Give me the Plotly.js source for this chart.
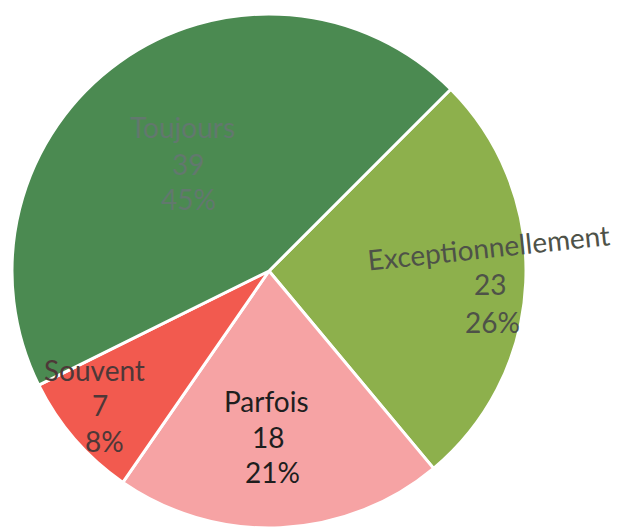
<!DOCTYPE html>
<html>
<head>
<meta charset="utf-8">
<script src="https://cdn.plot.ly/plotly-3.0.1.min.js"></script>
<style>html,body{margin:0;padding:0;background:#fff;overflow:hidden}</style>
</head>
<body>
<div id="chart" style="width:624px;height:550px"></div>
<script>
const labels = ["Exceptionnellement", "Parfois", "Souvent", "Toujours"];
const values = [23, 18, 7, 39];
const percents = [26, 21, 8, 45];
const colors = ["#8db04c", "#f6a3a4", "#f25a4f", "#4b8a51"];
const textColors = ["#4e5248", "#1e1e1e", "#4e3838", "#62786e"];

// label placement (pixel centres of label / value / percent lines)
const W = 624, H = 550, MT = 14, MB = 22;
const linePos = [
  [[488, 247], [490, 284], [492, 322]],
  [[266, 401], [268, 437], [272, 472]],
  [[95, 370], [100, 405], [104, 441]],
  [[182, 127], [188, 164], [188, 199]]
];
const firstLineAngle = [-6, 0, 0, 0];

const annotations = [];
labels.forEach((l, i) => {
  const lines = [l, String(values[i]), percents[i] + "%"];
  lines.forEach((t, k) => {
    const [px, py] = linePos[i][k];
    annotations.push({
      xref: "paper", yref: "paper",
      x: px / W, y: (H - MB - py) / (H - MT - MB),
      xanchor: "center", yanchor: "middle",
      text: t, showarrow: false,
      textangle: k === 0 ? firstLineAngle[i] : 0,
      font: {family: "Lato, 'Open Sans', sans-serif", size: 28, color: textColors[i]}
    });
  });
});

const trace = {
  type: "pie",
  labels: labels,
  values: values,
  sort: false,
  direction: "clockwise",
  rotation: 45,
  marker: {colors: colors, line: {color: "#ffffff", width: 3}},
  textinfo: "none",
  hoverinfo: "none",
  showlegend: false,
  domain: {x: [(269 - 257) / W, (269 + 257) / W], y: [0, 1]}
};

Plotly.newPlot("chart", [trace], {
  width: W, height: H,
  margin: {l: 0, r: 0, t: MT, b: MB},
  paper_bgcolor: "#ffffff",
  showlegend: false,
  annotations: annotations
}, {displayModeBar: false, staticPlot: true});
</script>
</body>
</html>
